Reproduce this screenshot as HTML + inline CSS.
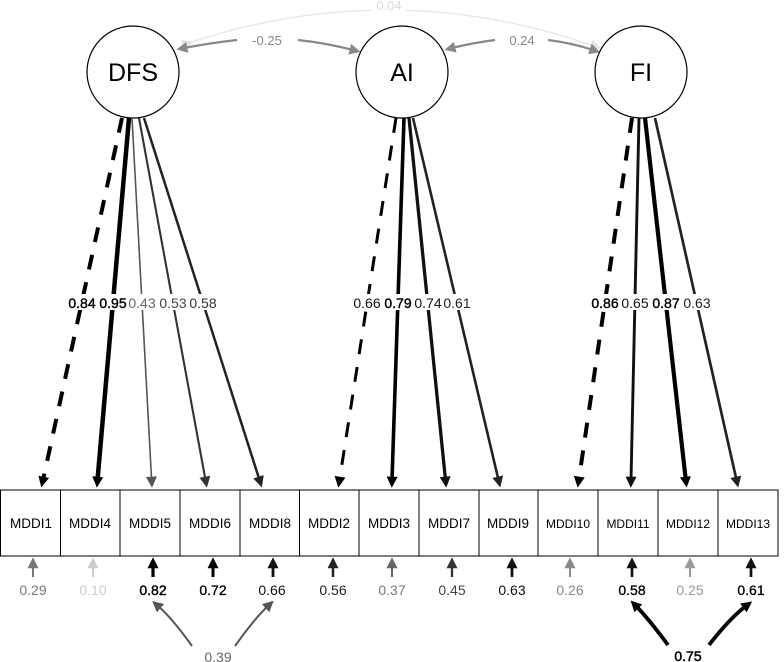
<!DOCTYPE html>
<html><head><meta charset="utf-8"><style>body{margin:0;background:#fff}svg{display:block}text{font-family:"Liberation Sans",sans-serif}</style></head><body>
<svg width="784" height="662" viewBox="0 0 784 662" xmlns="http://www.w3.org/2000/svg">
<defs>
<marker id="h" viewBox="0 0 10 10" refX="3" refY="5" markerWidth="12" markerHeight="11" orient="auto" markerUnits="userSpaceOnUse"><path d="M0,0L10,5L0,10z" fill="context-stroke"/></marker>
<marker id="r" viewBox="0 0 10 10" refX="3" refY="5" markerWidth="11" markerHeight="11" orient="auto" markerUnits="userSpaceOnUse"><path d="M0,0L10,5L0,10z" fill="context-stroke"/></marker>
<marker id="g" viewBox="0 0 10 10" refX="3" refY="5" markerWidth="13" markerHeight="11" orient="auto" markerUnits="userSpaceOnUse"><path d="M0,0L10,5L0,10z" fill="context-stroke"/></marker>
</defs>
<!-- 0.04 arc -->
<path d="M186,44 Q390,-25 594,46" fill="none" stroke="#e4e4e4" stroke-width="1.2" marker-start="url(#g)" marker-end="url(#g)"/>
<rect x="372" y="0" width="34" height="12" fill="#fff"/>
<text x="389" y="10" font-size="13" fill="#ddd" text-anchor="middle">0.04</text>
<!-- -0.25 -->
<path d="M237,40 Q210,43 184,48" stroke="#888" stroke-width="2.2" fill="none" marker-end="url(#g)"/>
<path d="M298,40 Q326,43 353,50" stroke="#888" stroke-width="2.2" fill="none" marker-end="url(#g)"/>
<text x="267" y="45" font-size="13" fill="#888" text-anchor="middle">-0.25</text>
<path d="M495,40 Q472,43 452,48" stroke="#888" stroke-width="2.2" fill="none" marker-end="url(#g)"/>
<path d="M548,40 Q572,43 593,50" stroke="#888" stroke-width="2.2" fill="none" marker-end="url(#g)"/>
<text x="522" y="45" font-size="13" fill="#888" text-anchor="middle">0.24</text>
<!-- circles -->
<circle cx="133" cy="72" r="46" fill="#fff" stroke="#000" stroke-width="1.2"/>
<circle cx="402" cy="72" r="46" fill="#fff" stroke="#000" stroke-width="1.2"/>
<circle cx="641" cy="72" r="46" fill="#fff" stroke="#000" stroke-width="1.2"/>
<text x="133" y="81" font-size="25" text-anchor="middle">DFS</text>
<text x="402" y="81" font-size="25" text-anchor="middle">AI</text>
<text x="641" y="81" font-size="25" text-anchor="middle">FI</text>
<!-- loadings -->
<g fill="none">
<line x1="122" y1="118" x2="43" y2="480" stroke="#000" stroke-width="4" stroke-dasharray="15,13" marker-end="url(#h)"/>
<line x1="129" y1="118" x2="97.5" y2="480" stroke="#000" stroke-width="4.5" marker-end="url(#h)"/>
<line x1="132" y1="118" x2="151.6" y2="480" stroke="#555" stroke-width="1.6" marker-end="url(#h)"/>
<line x1="139" y1="118" x2="205.5" y2="480" stroke="#333" stroke-width="2.1" marker-end="url(#h)"/>
<line x1="144" y1="118" x2="259.5" y2="480" stroke="#222" stroke-width="2.5" marker-end="url(#h)"/>
<line x1="396" y1="118" x2="339.5" y2="480" stroke="#000" stroke-width="3" stroke-dasharray="15,13" marker-end="url(#h)"/>
<line x1="404" y1="118" x2="392" y2="480" stroke="#000" stroke-width="3.6" marker-end="url(#h)"/>
<line x1="409" y1="118" x2="445.5" y2="480" stroke="#111" stroke-width="3.3" marker-end="url(#h)"/>
<line x1="413" y1="118" x2="498.5" y2="480" stroke="#222" stroke-width="2.6" marker-end="url(#h)"/>
<line x1="632" y1="118" x2="578.8" y2="480" stroke="#000" stroke-width="4" stroke-dasharray="15,13" marker-end="url(#h)"/>
<line x1="639" y1="118" x2="631" y2="480" stroke="#111" stroke-width="2.9" marker-end="url(#h)"/>
<line x1="645" y1="118" x2="685.8" y2="480" stroke="#000" stroke-width="4.2" marker-end="url(#h)"/>
<line x1="655" y1="118" x2="736.5" y2="480" stroke="#222" stroke-width="2.7" marker-end="url(#h)"/>
</g>
<g font-size="14" text-anchor="middle">
<rect x="69" y="294" width="26" height="16" fill="#fff"/><text x="82" y="308" fill="#000" stroke="#000" stroke-width="0.4">0.84</text>
<rect x="100" y="294" width="26" height="16" fill="#fff"/><text x="113" y="308" fill="#000" stroke="#000" stroke-width="0.4">0.95</text>
<rect x="129" y="294" width="26" height="16" fill="#fff"/><text x="142" y="308" fill="#666">0.43</text>
<rect x="160" y="294" width="26" height="16" fill="#fff"/><text x="173" y="308" fill="#444">0.53</text>
<rect x="190" y="294" width="26" height="16" fill="#fff"/><text x="203" y="308" fill="#333">0.58</text>
<rect x="354" y="294" width="26" height="16" fill="#fff"/><text x="367" y="308" fill="#111">0.66</text>
<rect x="385" y="294" width="26" height="16" fill="#fff"/><text x="398" y="308" fill="#000" stroke="#000" stroke-width="0.4">0.79</text>
<rect x="415" y="294" width="26" height="16" fill="#fff"/><text x="428" y="308" fill="#111">0.74</text>
<rect x="444" y="294" width="26" height="16" fill="#fff"/><text x="457" y="308" fill="#222">0.61</text>
<rect x="592" y="294" width="26" height="16" fill="#fff"/><text x="605" y="308" fill="#000" stroke="#000" stroke-width="0.4">0.86</text>
<rect x="622" y="294" width="26" height="16" fill="#fff"/><text x="635" y="308" fill="#111">0.65</text>
<rect x="653" y="294" width="26" height="16" fill="#fff"/><text x="666" y="308" fill="#000" stroke="#000" stroke-width="0.4">0.87</text>
<rect x="684" y="294" width="26" height="16" fill="#fff"/><text x="697" y="308" fill="#222">0.63</text>
</g>
<!-- boxes -->
<g fill="#fff" stroke="#000" stroke-width="1">
<rect x="0.5" y="490" width="60" height="66"/><rect x="60.5" y="490" width="59.5" height="66"/><rect x="120" y="490" width="60" height="66"/><rect x="180" y="490" width="60" height="66"/><rect x="240" y="490" width="59.5" height="66"/><rect x="299.5" y="490" width="59.5" height="66"/><rect x="359" y="490" width="60" height="66"/><rect x="419" y="490" width="60" height="66"/><rect x="479" y="490" width="59" height="66"/><rect x="538" y="490" width="60" height="66"/><rect x="598" y="490" width="60" height="66"/><rect x="658" y="490" width="60" height="66"/><rect x="718" y="490" width="60" height="66"/>
</g>
<g font-size="13.5" text-anchor="middle">
<text x="31" y="528">MDDI1</text><text x="90" y="528">MDDI4</text><text x="150" y="528">MDDI5</text><text x="210" y="528">MDDI6</text><text x="270" y="528">MDDI8</text><text x="329" y="528">MDDI2</text><text x="389" y="528">MDDI3</text><text x="449" y="528">MDDI7</text><text x="508" y="528">MDDI9</text>
<text x="568" y="528" font-size="12">MDDI10</text><text x="628" y="528" font-size="12">MDDI11</text><text x="688" y="528" font-size="12">MDDI12</text><text x="748" y="528" font-size="12">MDDI13</text>
</g>
<!-- residuals -->
<g fill="none">
<line x1="33" y1="577" x2="33" y2="565" stroke="#777" stroke-width="2" marker-end="url(#r)"/>
<line x1="93" y1="577" x2="93" y2="565" stroke="#ccc" stroke-width="2" marker-end="url(#r)"/>
<line x1="153" y1="577" x2="153" y2="565" stroke="#000" stroke-width="3.2" marker-end="url(#r)"/>
<line x1="213" y1="577" x2="213" y2="565" stroke="#000" stroke-width="3" marker-end="url(#r)"/>
<line x1="273" y1="577" x2="273" y2="565" stroke="#111" stroke-width="2.8" marker-end="url(#r)"/>
<line x1="333" y1="577" x2="333" y2="565" stroke="#222" stroke-width="2.5" marker-end="url(#r)"/>
<line x1="392" y1="577" x2="392" y2="565" stroke="#666" stroke-width="2.1" marker-end="url(#r)"/>
<line x1="452" y1="577" x2="452" y2="565" stroke="#333" stroke-width="2.3" marker-end="url(#r)"/>
<line x1="512" y1="577" x2="512" y2="565" stroke="#111" stroke-width="2.8" marker-end="url(#r)"/>
<line x1="570" y1="577" x2="570" y2="565" stroke="#888" stroke-width="2" marker-end="url(#r)"/>
<line x1="632" y1="577" x2="632" y2="565" stroke="#111" stroke-width="2.7" marker-end="url(#r)"/>
<line x1="690" y1="577" x2="690" y2="565" stroke="#999" stroke-width="2" marker-end="url(#r)"/>
<line x1="751" y1="577" x2="751" y2="565" stroke="#111" stroke-width="2.7" marker-end="url(#r)"/>
</g>
<g font-size="14" text-anchor="middle">
<text x="33" y="595" fill="#777">0.29</text><text x="93" y="595" fill="#ccc">0.10</text><text x="153" y="595" fill="#000" stroke="#000" stroke-width="0.4">0.82</text><text x="213" y="595" fill="#000" stroke="#000" stroke-width="0.3">0.72</text><text x="272" y="595" fill="#111">0.66</text><text x="333" y="595" fill="#222">0.56</text><text x="392" y="595" fill="#777">0.37</text><text x="452" y="595" fill="#444">0.45</text><text x="512" y="595" fill="#111">0.63</text><text x="570" y="595" fill="#888">0.26</text><text x="632" y="595" fill="#000" stroke="#000" stroke-width="0.3">0.58</text><text x="690" y="595" fill="#999">0.25</text><text x="751" y="595" fill="#000" stroke="#000" stroke-width="0.3">0.61</text>
</g>
<!-- residual covariances -->
<path d="M192,646 Q172,618 158,606" fill="none" stroke="#555" stroke-width="2" marker-end="url(#r)"/>
<path d="M235,646 Q255,618 268,606" fill="none" stroke="#555" stroke-width="2" marker-end="url(#r)"/>
<text x="218" y="662" font-size="14" fill="#666" text-anchor="middle">0.39</text>
<path d="M668,645 Q648,618 636,606" fill="none" stroke="#000" stroke-width="3.8" marker-end="url(#r)"/>
<path d="M709,645 Q730,618 746,606" fill="none" stroke="#000" stroke-width="3.8" marker-end="url(#r)"/>
<text x="688" y="661" font-size="14" fill="#000" stroke="#000" stroke-width="0.5" text-anchor="middle">0.75</text>
</svg>
</body></html>
